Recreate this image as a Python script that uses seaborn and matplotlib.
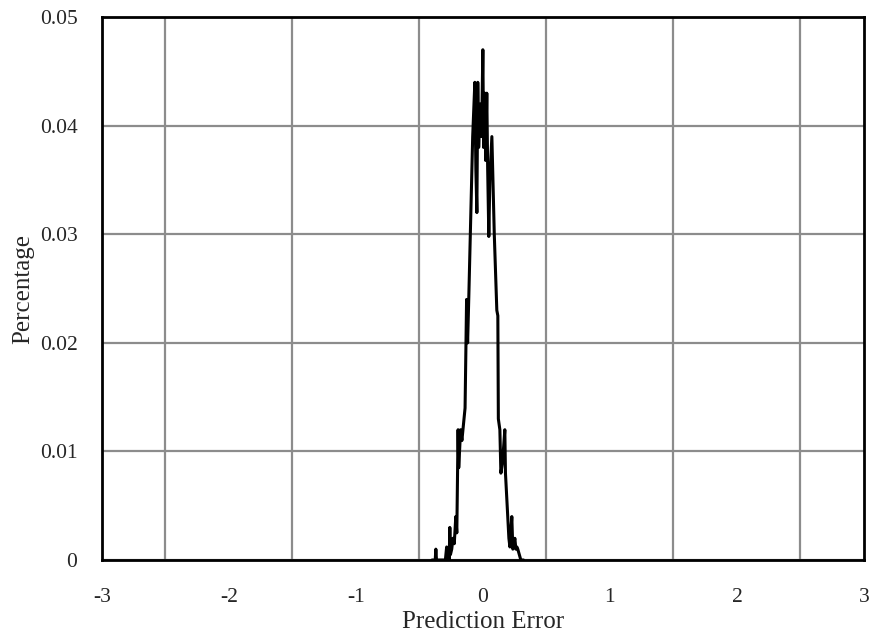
import numpy as np
import pandas as pd
import seaborn as sns
import matplotlib as mpl
import matplotlib.pyplot as plt

sns.set_style("white")
mpl.rcParams['font.family'] = ['Liberation Serif', 'DejaVu Serif']

# prediction error histogram
err = [-0.40, -0.375, -0.37, -0.365, -0.295, -0.285, -0.28, -0.27, -0.265,
       -0.26, -0.255, -0.245, -0.235, -0.225, -0.213, -0.205, -0.195, -0.19,
       -0.175, -0.165, -0.14, -0.128, -0.12, -0.11, -0.08, -0.063, -0.055,
       -0.047, -0.04, -0.033, -0.02, -0.01, 0.0, 0.006, 0.016, 0.022, 0.031,
       0.038, 0.047, 0.055, 0.071, 0.09, 0.11, 0.118, 0.122, 0.134, 0.142,
       0.155, 0.173, 0.178, 0.205, 0.213, 0.228, 0.236, 0.252, 0.26, 0.268,
       0.275, 0.299, 0.32]
pct = [0, 0, 0.001, 0, 0, 0.0012, 0, 0.001, 0,
       0.003, 0.0005, 0.001, 0.002, 0.0015, 0.004, 0.0025, 0.012, 0.0085,
       0.012, 0.011, 0.014, 0.024, 0.020, 0.0245, 0.039, 0.044, 0.036,
       0.032, 0.044, 0.038, 0.042, 0.039, 0.047, 0.038, 0.043, 0.0368, 0.043,
       0.036, 0.0298, 0.035, 0.039, 0.030, 0.023, 0.0225, 0.013, 0.012, 0.008,
       0.009, 0.012, 0.008, 0.002, 0.0012, 0.004, 0.001, 0.002, 0.001, 0.0012,
       0.001, 0, 0]

x_major = [-3, -2, -1, 0, 1, 2, 3]
x_minor = [-2.5, -1.5, -0.5, 0.5, 1.5, 2.5]
y_major = [0, 0.01, 0.02, 0.03, 0.04, 0.05]
y_minor = [0.005, 0.015, 0.025, 0.035, 0.045]

df = pd.DataFrame({"err": err, "pct": pct})

fig = plt.figure(figsize=(8.7, 6.36), dpi=100)
ax = fig.add_axes([0.117, 0.1195, 0.876, 0.8535])

sns.lineplot(data=df, x="err", y="pct", sort=False, color="black", lw=2.2, ax=ax)

ax.set_xlim(-3, 3)
ax.set_ylim(0, 0.05)
ax.set_xticks(x_major)
ax.set_xticks(x_minor, minor=True)
ax.set_yticks(y_major)
ax.set_yticks(y_minor, minor=True)
ax.set_xticklabels([str(v) for v in x_major])
ax.set_yticklabels(["0", "0.01", "0.02", "0.03", "0.04", "0.05"])

gray = "#8c8c8c"
ax.grid(False)
ax.grid(which="minor", axis="x", color=gray, lw=1.6)
ax.grid(which="major", axis="y", color=gray, lw=1.6)
ax.set_axisbelow(True)

ax.tick_params(axis="x", which="major", direction="inout", length=18, width=1.6,
               color=gray, labelsize=15.5, pad=11)
ax.tick_params(axis="x", which="minor", direction="out", length=8, width=1.6, color=gray)
ax.tick_params(axis="y", which="major", direction="out", length=14, width=1.6,
               color=gray, labelsize=15.5, pad=3.5)
ax.tick_params(axis="y", which="minor", direction="inout", length=16, width=1.6, color=gray)

for s in ax.spines.values():
    s.set_color("black")
    s.set_linewidth(2)

ax.set_xlabel("Prediction Error", fontsize=18, labelpad=3)
ax.set_ylabel("Percentage", fontsize=18, labelpad=4)

fig.savefig("out.png", dpi=100)
